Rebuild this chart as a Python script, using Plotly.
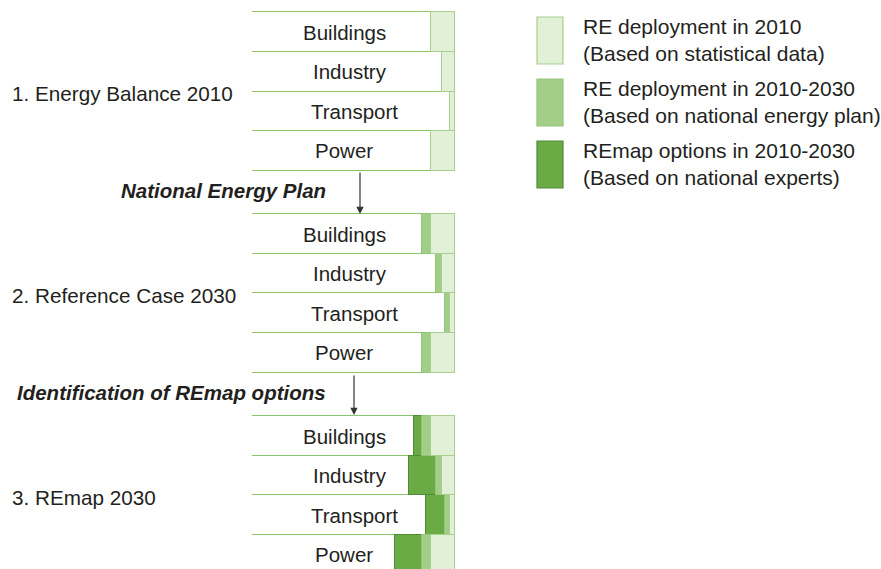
import plotly.graph_objects as go

# ---- data (shares of each sector's final energy, %) ----
sectors = ["Buildings", "Industry", "Transport", "Power"]
re_2010 = [11.9, 6.5, 2.3, 11.9]          # RE deployment in 2010
re_plan = [4.4, 2.8, 2.4, 4.4]            # added by national energy plan 2010-2030
remap_add = [4.1, 13.5, 9.4, 13.2]        # REmap options 2010-2030

stage_labels = ["1. Energy Balance 2010", "2. Reference Case 2030", "3. REmap 2030"]
step_labels = ["National Energy Plan", "Identification of REmap options"]
legend_labels = [
    "RE deployment in 2010<br>(Based on statistical data)",
    "RE deployment in 2010-2030<br>(Based on national energy plan)",
    "REmap options in 2010-2030<br>(Based on national experts)",
]

W, H = 881, 569
FONT = "Liberation Sans, Arial, Helvetica, sans-serif"
TXT = "#231f20"
C_LIGHT, C_LIGHT_LINE = "#e3f0d8", "#a6d08c"
C_MED, C_MED_LINE = "#a2ce89", "#93c47a"
C_DARK, C_DARK_LINE = "#6aab46", "#4f8a34"
C_BOX_LINE = "#8cc46c"

BLOCK_STEP = 5.1
n_sec = len(sectors)

def px_x(p):
    return p / W

def px_y(p):
    return 1 - p / H

# which components are present in each stage
stage_parts = [
    (True, False, False),
    (True, True, False),
    (True, True, True),
]

fig = go.Figure()

ys, white, dark, med, light = [], [], [], [], []
for b, (has_l, has_m, has_d) in enumerate(stage_parts):
    for r in range(n_sec):
        ys.append(b * BLOCK_STEP + r)
        l = re_2010[r] if has_l else 0
        m = re_plan[r] if has_m else 0
        d = remap_add[r] if has_d else 0
        white.append(100 - l - m - d)
        dark.append(d if d else None)
        med.append(m if m else None)
        light.append(l if l else None)

common = dict(orientation="h", width=1, showlegend=False, hoverinfo="skip")
fig.add_trace(go.Bar(x=white, y=ys, marker=dict(color="white", line=dict(color=C_BOX_LINE, width=1.5)), **common))
fig.add_trace(go.Bar(x=dark, y=ys, marker=dict(color=C_DARK, line=dict(color=C_DARK_LINE, width=1.2)), **common))
fig.add_trace(go.Bar(x=med, y=ys, marker=dict(color=C_MED, line=dict(color=C_MED_LINE, width=1)), **common))
fig.add_trace(go.Bar(x=light, y=ys, marker=dict(color=C_LIGHT, line=dict(color=C_LIGHT_LINE, width=1.2)), **common))

annotations = []
# sector labels inside boxes
for b in range(len(stage_parts)):
    for r, s in enumerate(sectors):
        annotations.append(dict(
            x=(100 - re_2010[r]) / 2 + 1.5, y=b * BLOCK_STEP + r, xref="x", yref="y",
            xanchor="center", yanchor="middle",
            text=s, showarrow=False, font=dict(family=FONT, size=20.5, color=TXT)))
    # stage labels on the left
    annotations.append(dict(
        x=px_x(10), xref="paper", xanchor="left",
        y=b * BLOCK_STEP + (n_sec - 1) / 2, yref="y", yanchor="middle", yshift=-2,
        text=stage_labels[b], showarrow=False, font=dict(family=FONT, size=20.7, color=TXT)))

# step labels and arrows
step_y = [190, 392]
arrow_x = [360, 354]
arrow_y = [(171, 214), (374, 415)]
for i, lab in enumerate(step_labels):
    annotations.append(dict(
        x=px_x(328), xref="paper", xanchor="right", y=px_y(step_y[i]), yref="paper",
        yanchor="middle",
        text=f"<b><i>{lab}</i></b>", showarrow=False, font=dict(family=FONT, size=20.5, color=TXT)))
    y0, y1 = arrow_y[i]
    annotations.append(dict(
        x=px_x(arrow_x[i]), y=px_y(y1), xref="paper", yref="paper",
        ax=0, ay=-(y1 - y0), axref="pixel", ayref="pixel",
        text="", showarrow=True, arrowhead=2, arrowsize=1.2, arrowwidth=1.2, arrowcolor="#333333"))

# legend (manual)
shapes = []
leg_top = [17, 79, 141]
leg_cols = [(C_LIGHT, C_LIGHT_LINE), (C_MED, C_MED_LINE), (C_DARK, C_DARK_LINE)]
for i, lab in enumerate(legend_labels):
    t = leg_top[i]
    fc, lc = leg_cols[i]
    shapes.append(dict(type="rect", xref="paper", yref="paper",
                       x0=px_x(537), x1=px_x(563), y0=px_y(t + 47), y1=px_y(t),
                       fillcolor=fc, line=dict(color=lc, width=1.2)))
    annotations.append(dict(
        x=px_x(581), xref="paper", xanchor="left", y=px_y(t + 23.5), yref="paper",
        yanchor="middle",
        text=lab, align="left", showarrow=False, font=dict(family=FONT, size=21, color=TXT)))

top_y = -0.5 - 12.3 / 39.6
rows_on_page = H / 39.6
fig.update_layout(
    width=W, height=H, margin=dict(l=0, r=0, t=0, b=0),
    paper_bgcolor="white", plot_bgcolor="rgba(0,0,0,0)",
    barmode="stack", bargap=0,
    xaxis=dict(domain=[px_x(252), px_x(455)], range=[0, 100], visible=False, fixedrange=True),
    yaxis=dict(domain=[0, 1], range=[top_y + rows_on_page, top_y], visible=False, fixedrange=True),
    annotations=annotations, shapes=shapes,
)

fig.write_html("out.html", config={"displayModeBar": False},
               post_script="document.body.style.margin='0';document.body.style.overflow='hidden';")
